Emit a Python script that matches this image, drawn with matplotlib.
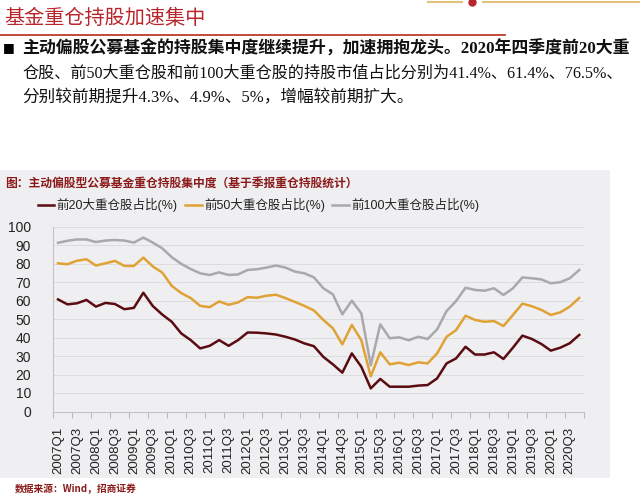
import matplotlib
matplotlib.use("Agg")
import matplotlib.pyplot as plt
from matplotlib.patches import Rectangle
from matplotlib.lines import Line2D
import numpy as np

# 季度标签 2007Q1 - 2020Q4
quarters = [f"{y}Q{q}" for y in range(2007, 2021) for q in range(1, 5)]

top20 = [60.6, 57.9, 58.5, 60.3, 56.7, 58.7, 58.1, 55.3, 56.0, 64.2,
         57.0, 52.4, 48.5, 42.2, 38.6, 34.1, 35.5, 38.6, 35.5, 38.6,
         42.7, 42.6, 42.2, 41.6, 40.4, 38.9, 36.8, 35.3, 29.5, 25.5,
         21.0, 31.4, 24.2, 12.5, 17.6, 13.4, 13.4, 13.4, 14.0, 14.3,
         17.9, 26.0, 28.7, 35.0, 30.8, 30.8, 32.0, 28.4, 34.5, 41.0,
         39.2, 36.5, 32.9, 34.5, 36.9, 41.4]
top50 = [80.1, 79.6, 81.5, 82.3, 78.9, 80.1, 81.4, 78.7, 78.7, 83.2,
         78.4, 75.1, 67.9, 64.0, 61.3, 57.1, 56.4, 59.5, 57.7, 59.0,
         61.8, 61.5, 62.6, 63.1, 61.3, 59.2, 57.1, 54.6, 49.5, 45.0,
         36.3, 46.8, 38.6, 19.0, 32.0, 25.5, 26.4, 25.1, 26.6, 26.0,
         31.4, 40.4, 44.0, 51.8, 49.5, 48.5, 48.9, 46.2, 52.2, 58.3,
         56.9, 54.9, 52.2, 53.6, 56.7, 61.4]
top100 = [91.2, 92.3, 93.0, 93.0, 91.6, 92.4, 92.7, 92.4, 91.3, 94.0,
          91.3, 88.2, 83.4, 79.8, 77.0, 74.7, 73.8, 75.2, 73.8, 74.1,
          76.5, 76.9, 77.8, 78.9, 77.8, 75.6, 74.7, 72.5, 66.6, 63.3,
          52.5, 59.9, 53.1, 25.0, 47.1, 39.6, 40.1, 38.5, 40.4, 39.2,
          44.4, 54.3, 59.7, 66.9, 65.7, 65.3, 66.6, 63.0, 66.6, 72.5,
          72.0, 71.4, 69.3, 69.9, 72.0, 76.5]

series_names = ['前20大重仓股占比(%)', '前50大重仓股占比(%)', '前100大重仓股占比(%)']
colors = ['#5a0c12', '#e0a235', '#a9a9ab']

W, H = 640, 501
fig = plt.figure(figsize=(6.4, 5.01), dpi=100)
fig.patch.set_facecolor('white')

def fx(x):
    return x / W

def fy(y):
    return 1 - y / H

cjk_sans = ['Liberation Sans', 'Noto Sans CJK SC']
cjk_serif = ['Liberation Serif', 'Noto Sans CJK SC']

# 灰色图表底板
fig.patches.append(Rectangle((0, fy(478)), fx(610), fy(170) - fy(478),
                             transform=fig.transFigure, facecolor='#efeff1',
                             edgecolor='none', zorder=-10))

# 标题与下划线
fig.text(fx(4), fy(19), '基金重仓持股加速集中', fontsize=14.5, color='#b8262b',
         family='Noto Sans CJK SC', va='center', ha='left')
fig.add_artist(Line2D([0, fx(505)], [fy(35), fy(35)], color='#c0392b', lw=1.3,
                      transform=fig.transFigure))
# 右上角装饰
fig.add_artist(Line2D([fx(428), fx(462)], [fy(2), fy(2)], color='#e0c27a', lw=1.5,
                      transform=fig.transFigure))
fig.add_artist(Line2D([fx(483), fx(640)], [fy(2), fy(2)], color='#e0c27a', lw=1.5,
                      transform=fig.transFigure))
fig.add_artist(Line2D([fx(472)], [fy(2)], marker='o', color='#b8262b', ms=5,
                      transform=fig.transFigure))

# 正文
fig.text(fx(3), fy(48), '■', fontsize=9, family='DejaVu Sans', va='center', color='black')
lines = ['主动偏股公募基金的持股集中度继续提升，加速拥抱龙头。2020年四季度前20大重',
         '仓股、前50大重仓股和前100大重仓股的持股市值占比分别为41.4%、61.4%、76.5%、',
         '分别较前期提升4.3%、4.9%、5%，增幅较前期扩大。']
sizes = [12.2, 11.6, 12.0]
for i, s in enumerate(lines):
    fig.text(fx(22), fy(49 + i * 24.5), s, fontsize=sizes[i], family=cjk_serif,
             va='center', ha='left', color='#111111',
             fontweight='bold' if i == 0 else 'medium')

# 图表标题
fig.text(fx(5), fy(183), '图：主动偏股型公募基金重仓持股集中度（基于季报重仓持股统计）',
         fontsize=8.5, family='Noto Sans CJK SC', fontweight='bold',
         color='#8b1a1a', va='center', ha='left')

# 数据来源
fig.text(fx(15), fy(489), '数据来源：Wind，招商证券', fontsize=7, family='Noto Sans CJK SC',
         fontweight='bold', color='#8b1a1a', va='center', ha='left')

# 主图
ax = fig.add_axes([fx(53.3), fy(411.5), fx(584) - fx(53.3), fy(226.5) - fy(411.5)])
ax.set_facecolor('none')
x = np.arange(len(quarters))
handles = []
for vals, c, name in zip([top20, top50, top100], colors, series_names):
    h, = ax.plot(x, vals, color=c, lw=1.8, label=name, solid_joinstyle='round')
    handles.append(h)

ax.set_xlim(-0.5, len(quarters) - 0.5)
ax.set_ylim(0, 100)
ax.set_yticks(range(0, 101, 10))
ax.yaxis.grid(True, color='#dcdcde', lw=0.7)
ax.set_axisbelow(True)

ax.set_xticks(x[::2])
ax.set_xticklabels(quarters[::2], rotation=90, family='Liberation Sans', fontsize=9.5,
                   color='#222222')
ax.set_xticks(np.arange(-0.5, len(quarters), 2), minor=True)
ax.tick_params(axis='x', which='major', length=0, pad=11)
ax.tick_params(axis='x', which='minor', length=4, color='#bbbbbb', width=0.8)
ax.tick_params(axis='y', length=0, pad=16, labelsize=10, labelcolor='#222222')
for lab in ax.get_yticklabels():
    lab.set_family('Liberation Sans')

for s in ['top', 'right']:
    ax.spines[s].set_visible(False)
for s in ['left', 'bottom']:
    ax.spines[s].set_color('#c4c4c4')
    ax.spines[s].set_linewidth(0.8)

leg = fig.legend(handles=handles, loc='center left', bbox_to_anchor=(fx(38), fy(205)),
                 ncol=3, frameon=False, prop={'family': cjk_sans, 'size': 9},
                 handlelength=1.3, handletextpad=0.2, columnspacing=0.6,
                 borderaxespad=0, borderpad=0)
for t in leg.get_texts():
    t.set_color('#222222')

fig.savefig('out.png', dpi=100, facecolor='white')
